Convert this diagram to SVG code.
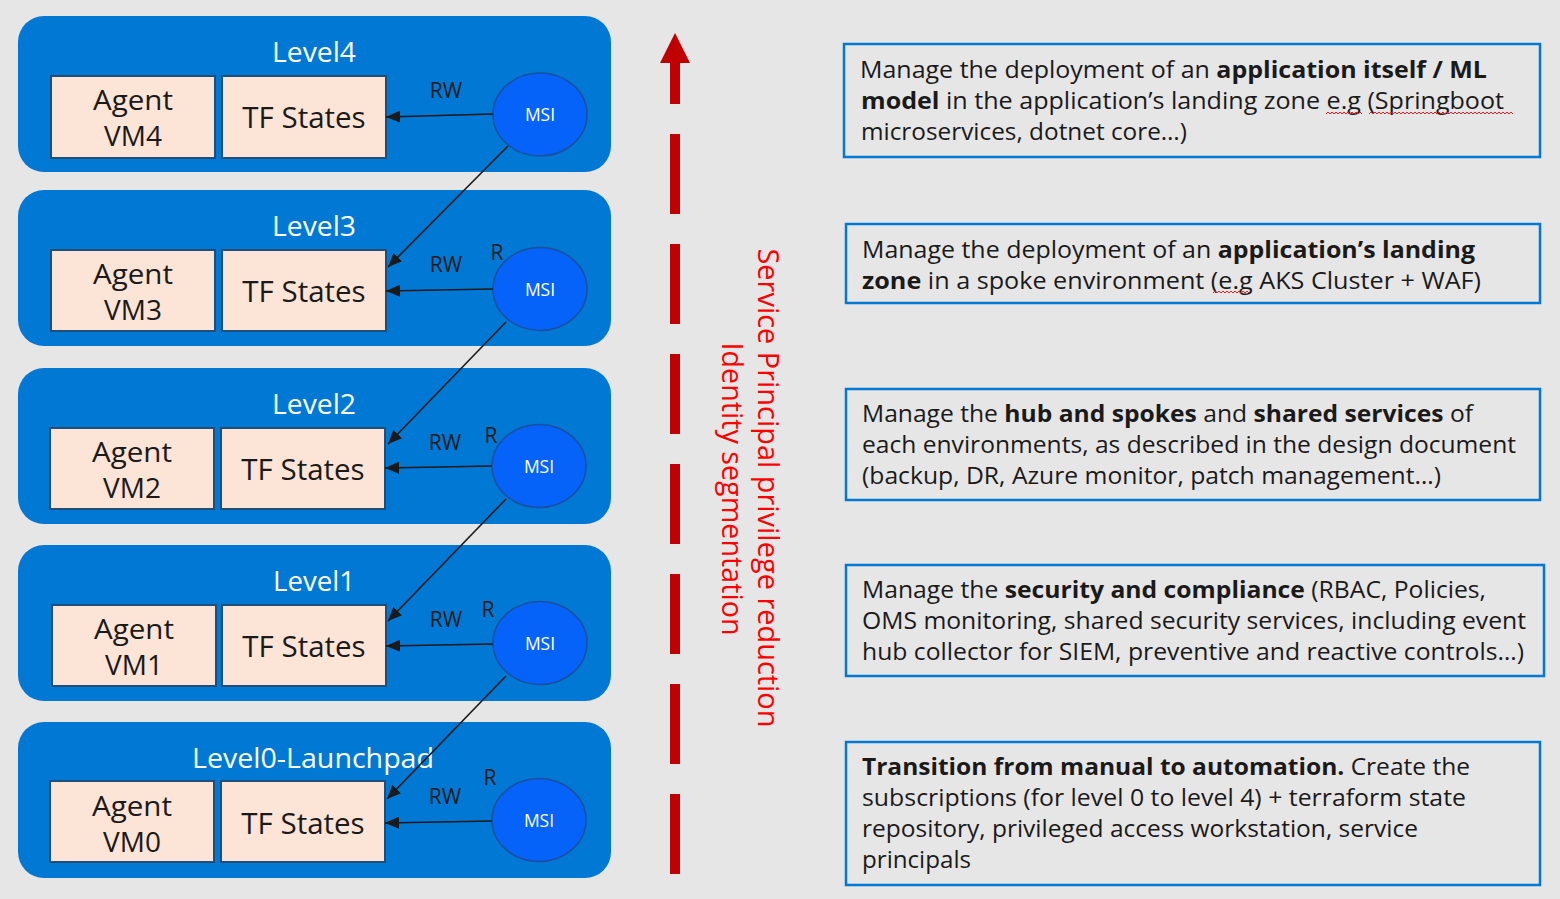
<svg xmlns="http://www.w3.org/2000/svg" width="1560" height="899" viewBox="0 0 1560 899">
<defs>
<style>
.bg{fill:#E7E6E6}
.lvl{fill:#0078D4}
.cell{fill:#FCE4D6;stroke:#1F4E79;stroke-width:2}
.msi{fill:#0563FA;stroke:#1B4F9C;stroke-width:1.5}
.t{font-family:"Open Sans","Noto Sans","DejaVu Sans",sans-serif}
.title{font-size:28px;fill:#FFFFFF;text-anchor:middle}
.cellt{font-size:28px;fill:#1A1A1A;text-anchor:middle}
.tft{font-size:29.5px;fill:#1A1A1A;text-anchor:middle}
.msit{font-size:17.5px;fill:#FFFFFF;text-anchor:middle}
.lab{font-size:21px;fill:#1A1A1A;text-anchor:middle}
.desc{font-size:23px;fill:#1A1A1A}
.descbox{fill:none;stroke:#0078D4;stroke-width:2.5}
.vert{font-size:29px;fill:#FF0000;text-anchor:middle}
.conn{stroke:#1A1A1A;stroke-width:1.6;fill:none}
.sq{stroke:#E02020;stroke-width:1;fill:none}
</style>
<marker id="ah" markerUnits="userSpaceOnUse" markerWidth="14" markerHeight="12" refX="14" refY="6" orient="auto">
<path d="M0,0 L14,6 L0,12 Z" fill="#1A1A1A"/>
</marker>
</defs>
<rect class="bg" x="0" y="0" width="1560" height="899"/>

<g id="level4">
<rect class="lvl" x="18" y="16" width="593" height="156" rx="26"/>
<text class="t title" x="314" y="62" textLength="84" lengthAdjust="spacingAndGlyphs">Level4</text>
<g id="agent4"><rect class="cell" x="51" y="76" width="164" height="82"/>
<text class="t cellt" x="133" y="110" textLength="80" lengthAdjust="spacingAndGlyphs">Agent</text><text class="t cellt" x="133" y="146">VM4</text></g>
<g id="tf4"><rect class="cell" x="222" y="76" width="164" height="82"/>
<text class="t tft" x="304" y="128">TF States</text></g>
<g id="msi4"><ellipse class="msi" cx="540" cy="114.5" rx="47" ry="41.5"/>
<text class="t msit" x="540" y="121">MSI</text></g>
</g>

<g id="level3">
<rect class="lvl" x="18" y="190" width="593" height="156" rx="26"/>
<text class="t title" x="314" y="236" textLength="84" lengthAdjust="spacingAndGlyphs">Level3</text>
<g id="agent3"><rect class="cell" x="51" y="250" width="164" height="81"/>
<text class="t cellt" x="133" y="284" textLength="80" lengthAdjust="spacingAndGlyphs">Agent</text><text class="t cellt" x="133" y="320">VM3</text></g>
<g id="tf3"><rect class="cell" x="222" y="250" width="164" height="81"/>
<text class="t tft" x="304" y="302">TF States</text></g>
<g id="msi3"><ellipse class="msi" cx="540" cy="289" rx="47" ry="41.5"/>
<text class="t msit" x="540" y="295.5">MSI</text></g>
</g>

<g id="level2">
<rect class="lvl" x="18" y="368" width="593" height="156" rx="26"/>
<text class="t title" x="314" y="414" textLength="84" lengthAdjust="spacingAndGlyphs">Level2</text>
<g id="agent2"><rect class="cell" x="50" y="428" width="164" height="81"/>
<text class="t cellt" x="132" y="462" textLength="80" lengthAdjust="spacingAndGlyphs">Agent</text><text class="t cellt" x="132" y="498">VM2</text></g>
<g id="tf2"><rect class="cell" x="221" y="428" width="164" height="81"/>
<text class="t tft" x="303" y="480">TF States</text></g>
<g id="msi2"><ellipse class="msi" cx="539" cy="466" rx="47" ry="41.5"/>
<text class="t msit" x="539" y="472.5">MSI</text></g>
</g>

<g id="level1">
<rect class="lvl" x="18" y="545" width="593" height="156" rx="26"/>
<text class="t title" x="314" y="591" textLength="82" lengthAdjust="spacingAndGlyphs">Level1</text>
<g id="agent1"><rect class="cell" x="52" y="605" width="164" height="81"/>
<text class="t cellt" x="134" y="639" textLength="80" lengthAdjust="spacingAndGlyphs">Agent</text><text class="t cellt" x="134" y="675">VM1</text></g>
<g id="tf1"><rect class="cell" x="222" y="605" width="164" height="81"/>
<text class="t tft" x="304" y="657">TF States</text></g>
<g id="msi1"><ellipse class="msi" cx="540" cy="643" rx="47" ry="41.5"/>
<text class="t msit" x="540" y="649.5">MSI</text></g>
</g>

<g id="level0">
<rect class="lvl" x="18" y="722" width="593" height="156" rx="26"/>
<text class="t title" x="313" y="768" textLength="242" lengthAdjust="spacingAndGlyphs">Level0-Launchpad</text>
<g id="agent0"><rect class="cell" x="50" y="781" width="164" height="81"/>
<text class="t cellt" x="132" y="816" textLength="80" lengthAdjust="spacingAndGlyphs">Agent</text><text class="t cellt" x="132" y="852">VM0</text></g>
<g id="tf0"><rect class="cell" x="221" y="781" width="164" height="81"/>
<text class="t tft" x="303" y="834">TF States</text></g>
<g id="msi0"><ellipse class="msi" cx="539" cy="820" rx="47" ry="41.5"/>
<text class="t msit" x="539" y="826.5">MSI</text></g>
</g>

<g id="connectors">
<line class="conn" x1="493" y1="114" x2="386" y2="117" marker-end="url(#ah)"/>
<line class="conn" x1="493" y1="289" x2="386" y2="291" marker-end="url(#ah)"/>
<line class="conn" x1="492" y1="466" x2="385" y2="468" marker-end="url(#ah)"/>
<line class="conn" x1="493" y1="644" x2="386" y2="646" marker-end="url(#ah)"/>
<line class="conn" x1="492" y1="821" x2="385" y2="823" marker-end="url(#ah)"/>
<line class="conn" x1="508" y1="146" x2="388" y2="267" marker-end="url(#ah)"/>
<line class="conn" x1="506" y1="322" x2="388" y2="444" marker-end="url(#ah)"/>
<line class="conn" x1="506" y1="499" x2="388" y2="621" marker-end="url(#ah)"/>
<line class="conn" x1="506" y1="676" x2="387" y2="799" marker-end="url(#ah)"/>
<text class="t lab" x="446" y="98">RW</text>
<text class="t lab" x="446" y="272">RW</text>
<text class="t lab" x="497" y="260">R</text>
<text class="t lab" x="445" y="450">RW</text>
<text class="t lab" x="491" y="443">R</text>
<text class="t lab" x="446" y="627">RW</text>
<text class="t lab" x="488" y="617">R</text>
<text class="t lab" x="445" y="804">RW</text>
<text class="t lab" x="490" y="785">R</text>
</g>

<g id="privilege-arrow">
<path d="M675,874 V63" stroke="#C00000" stroke-width="10" stroke-dasharray="80 30" fill="none"/>
<path d="M660,63 L675,33 L690,63 Z" fill="#C00000"/>
<text class="t vert" transform="translate(758,488) rotate(90)" x="0" y="0" textLength="479" lengthAdjust="spacingAndGlyphs">Service Principal privilege reduction</text>
<text class="t vert" transform="translate(722,489) rotate(90)" x="0" y="0" textLength="293" lengthAdjust="spacingAndGlyphs">Identity segmentation</text>
</g>

<g id="desc4">
<rect class="descbox" x="844" y="44" width="696" height="113"/>
<text class="t desc" x="860" y="78" textLength="627" lengthAdjust="spacingAndGlyphs">Manage the deployment of an <tspan font-weight="bold">application itself / ML</tspan></text>
<text class="t desc" x="861" y="109" textLength="643" lengthAdjust="spacingAndGlyphs"><tspan font-weight="bold">model</tspan> in the application’s landing zone e.g (Springboot</text>
<text class="t desc" x="861" y="140" textLength="326" lengthAdjust="spacingAndGlyphs">microservices, dotnet core…)</text>
<path class="sq" d="M1326,114 l2,-2 l2,2 l2,-2 l2,2 l2,-2 l2,2 l2,-2 l2,2 l2,-2 l2,2 l2,-2 l2,2 l2,-2 l2,2 l2,-2 l2,2 l2,-2 l2,2"/>
<path class="sq" d="M1369,114 l2,-2 l2,2 l2,-2 l2,2 l2,-2 l2,2 l2,-2 l2,2 l2,-2 l2,2 l2,-2 l2,2 l2,-2 l2,2 l2,-2 l2,2 l2,-2 l2,2 l2,-2 l2,2 l2,-2 l2,2 l2,-2 l2,2 l2,-2 l2,2 l2,-2 l2,2 l2,-2 l2,2 l2,-2 l2,2 l2,-2 l2,2 l2,-2 l2,2 l2,-2 l2,2 l2,-2 l2,2 l2,-2 l2,2 l2,-2 l2,2 l2,-2 l2,2 l2,-2 l2,2 l2,-2 l2,2 l2,-2 l2,2 l2,-2 l2,2 l2,-2 l2,2 l2,-2 l2,2 l2,-2 l2,2 l2,-2 l2,2 l2,-2 l2,2 l2,-2 l2,2 l2,-2 l2,2 l2,-2 l2,2 l2,-2 l2,2"/>
</g>

<g id="desc3">
<rect class="descbox" x="846" y="224" width="694" height="79"/>
<text class="t desc" x="862" y="258" textLength="613" lengthAdjust="spacingAndGlyphs">Manage the deployment of an <tspan font-weight="bold">application’s landing</tspan></text>
<text class="t desc" x="862" y="289" textLength="619" lengthAdjust="spacingAndGlyphs"><tspan font-weight="bold">zone</tspan> in a spoke environment (e.g AKS Cluster + WAF)</text>
<path class="sq" d="M1213,293 l2,-2 l2,2 l2,-2 l2,2 l2,-2 l2,2 l2,-2 l2,2 l2,-2 l2,2 l2,-2 l2,2 l2,-2 l2,2 l2,-2 l2,2 l2,-2 l2,2"/>
</g>

<g id="desc2">
<rect class="descbox" x="846" y="389" width="694" height="111"/>
<text class="t desc" x="862" y="422" textLength="611" lengthAdjust="spacingAndGlyphs">Manage the <tspan font-weight="bold">hub and spokes</tspan> and <tspan font-weight="bold">shared services</tspan> of</text>
<text class="t desc" x="862" y="453" textLength="654" lengthAdjust="spacingAndGlyphs">each environments, as described in the design document</text>
<text class="t desc" x="862" y="484" textLength="579" lengthAdjust="spacingAndGlyphs">(backup, DR, Azure monitor, patch management…)</text>
</g>

<g id="desc1">
<rect class="descbox" x="846" y="565" width="698" height="111"/>
<text class="t desc" x="862" y="598" textLength="624" lengthAdjust="spacingAndGlyphs">Manage the <tspan font-weight="bold">security and compliance</tspan> (RBAC, Policies,</text>
<text class="t desc" x="862" y="629" textLength="664" lengthAdjust="spacingAndGlyphs">OMS monitoring, shared security services, including event</text>
<text class="t desc" x="862" y="660" textLength="662" lengthAdjust="spacingAndGlyphs">hub collector for SIEM, preventive and reactive controls…)</text>
</g>

<g id="desc0">
<rect class="descbox" x="846" y="742" width="694" height="143"/>
<text class="t desc" x="862" y="775" textLength="608" lengthAdjust="spacingAndGlyphs"><tspan font-weight="bold">Transition from manual to automation.</tspan> Create the</text>
<text class="t desc" x="862" y="806" textLength="604" lengthAdjust="spacingAndGlyphs">subscriptions (for level 0 to level 4) + terraform state</text>
<text class="t desc" x="862" y="837" textLength="556" lengthAdjust="spacingAndGlyphs">repository, privileged access workstation, service</text>
<text class="t desc" x="862" y="868" textLength="109" lengthAdjust="spacingAndGlyphs">principals</text>
</g>
</svg>
